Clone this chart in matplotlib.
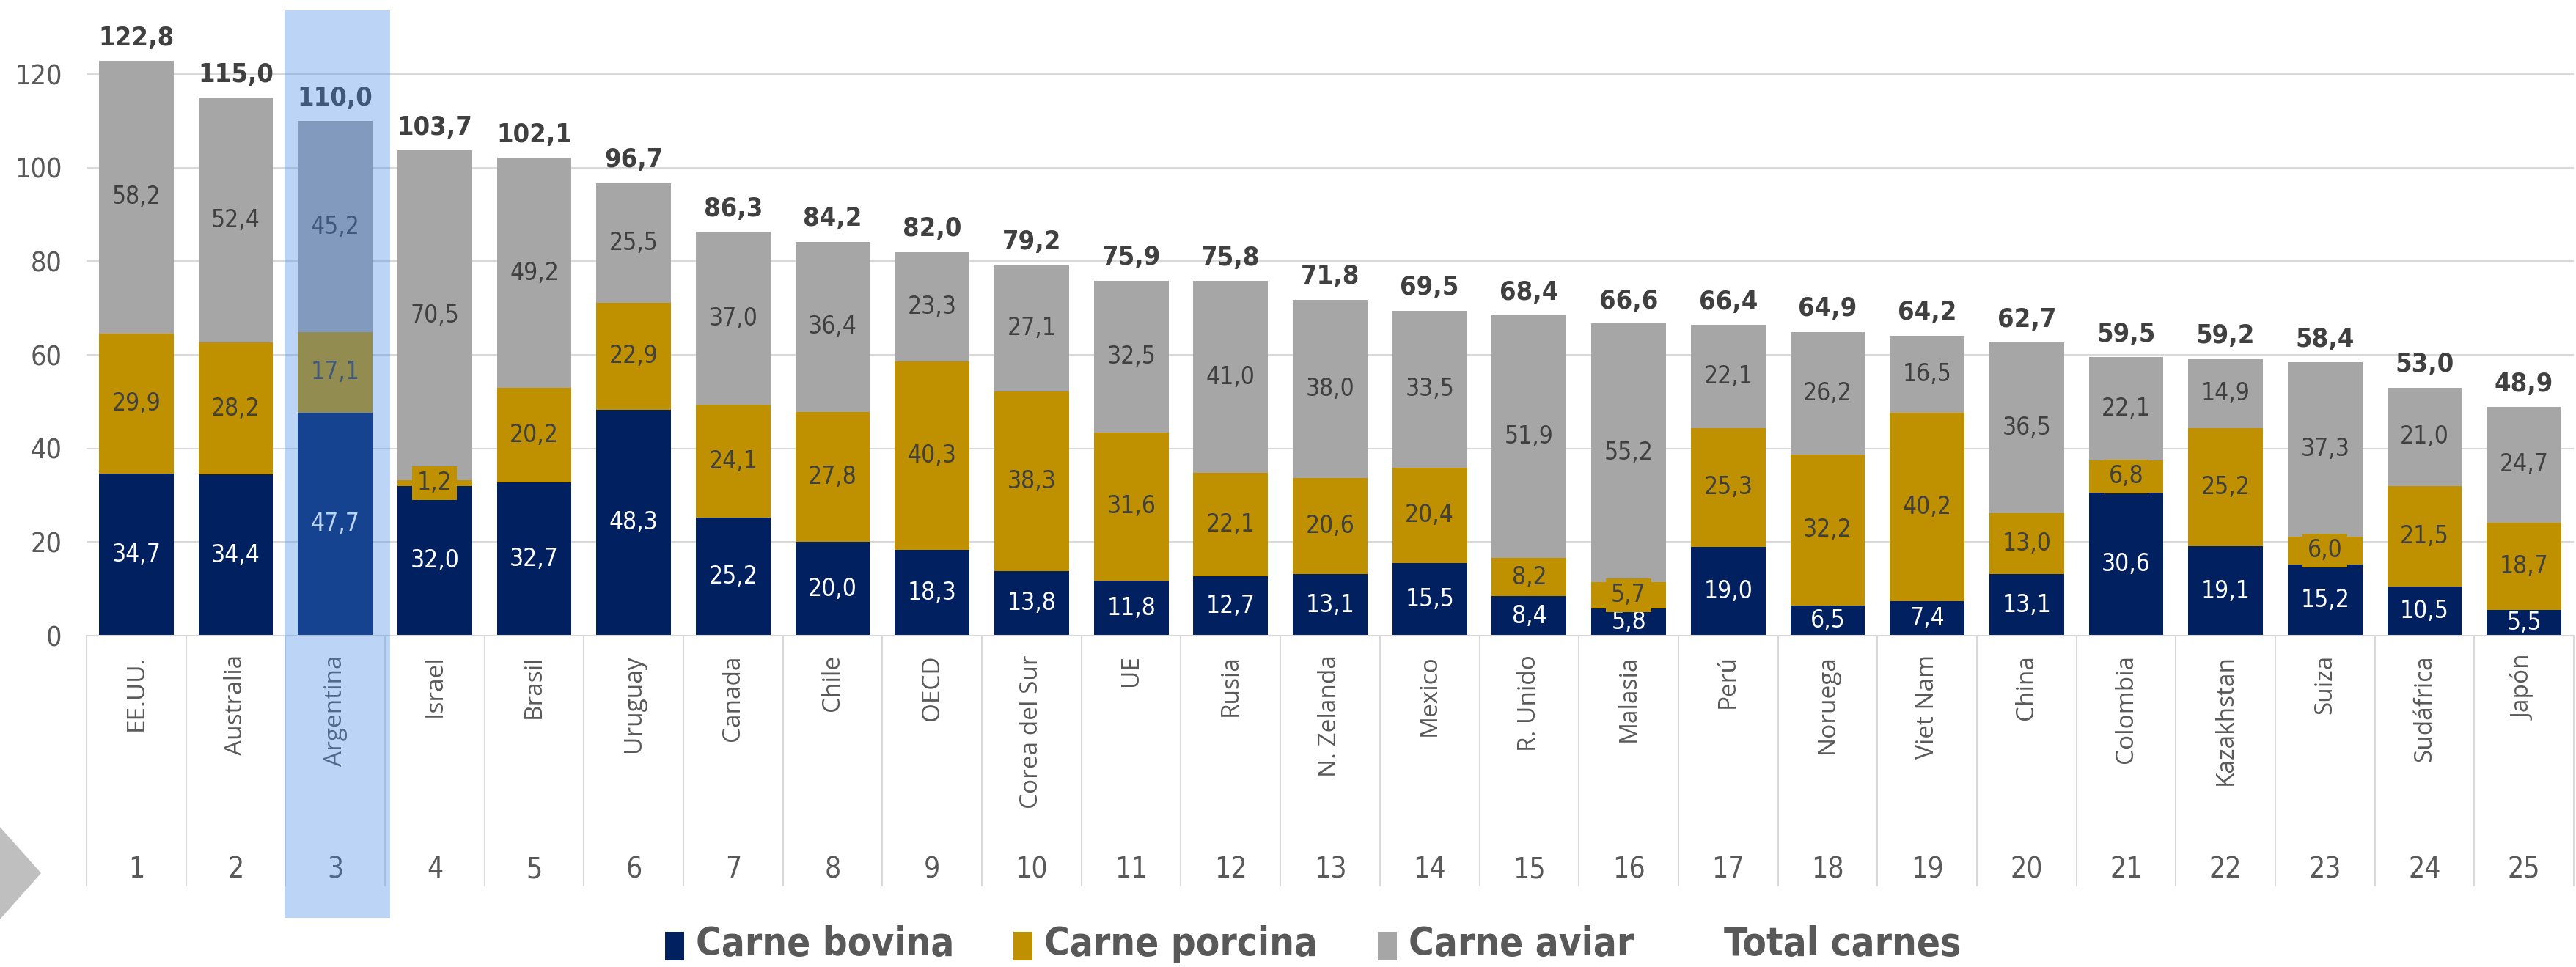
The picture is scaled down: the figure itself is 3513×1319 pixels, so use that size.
import numpy as np
import matplotlib.pyplot as plt
from matplotlib.patches import Rectangle, Polygon

# consumo de carnes por país (kg/hab/año)
paises = ['EE.UU.', 'Australia', 'Argentina', 'Israel', 'Brasil', 'Uruguay', 'Canada',
          'Chile', 'OECD', 'Corea del Sur', 'UE', 'Rusia', 'N. Zelanda', 'Mexico',
          'R. Unido', 'Malasia', 'Perú', 'Noruega', 'Viet Nam', 'China', 'Colombia',
          'Kazakhstan', 'Suiza', 'Sudáfrica', 'Japón']
bovina = [34.7, 34.4, 47.7, 32.0, 32.7, 48.3, 25.2, 20.0, 18.3, 13.8, 11.8, 12.7, 13.1,
          15.5, 8.4, 5.8, 19.0, 6.5, 7.4, 13.1, 30.6, 19.1, 15.2, 10.5, 5.5]
porcina = [29.9, 28.2, 17.1, 1.2, 20.2, 22.9, 24.1, 27.8, 40.3, 38.3, 31.6, 22.1, 20.6,
           20.4, 8.2, 5.7, 25.3, 32.2, 40.2, 13.0, 6.8, 25.2, 6.0, 21.5, 18.7]
aviar = [58.2, 52.4, 45.2, 70.5, 49.2, 25.5, 37.0, 36.4, 23.3, 27.1, 32.5, 41.0, 38.0,
         33.5, 51.9, 55.2, 22.1, 26.2, 16.5, 36.5, 22.1, 14.9, 37.3, 21.0, 24.7]
total = [122.8, 115.0, 110.0, 103.7, 102.1, 96.7, 86.3, 84.2, 82.0, 79.2, 75.9, 75.8,
         71.8, 69.5, 68.4, 66.6, 66.4, 64.9, 64.2, 62.7, 59.5, 59.2, 58.4, 53.0, 48.9]
series = ['Carne bovina', 'Carne porcina', 'Carne aviar', 'Total carnes']
resaltado = 'Argentina'

W, H = 3513, 1319
COL_BOV = '#002060'
COL_POR = '#BF9000'
COL_AVI = '#A6A6A6'
TXT = '#404040'
GRIS = '#595959'
GRID = '#D9D9D9'
NUM = dict(family='DejaVu Sans', stretch='condensed')
SANS = ['Open Sans', 'DejaVu Sans']


def fmt(v):
    return f'{v:.1f}'.replace('.', ',')


fig = plt.figure(figsize=(W / 100, H / 100), dpi=100)
ax = fig.add_axes([118 / W, (H - 867) / H, 3392 / W, 861.7 / H])

x = np.arange(len(paises))
bov = np.array(bovina)
por = np.array(porcina)
avi = np.array(aviar)

ax.bar(x, bov, 0.75, color=COL_BOV, zorder=2)
ax.bar(x, por, 0.75, bottom=bov, color=COL_POR, zorder=2)
ax.bar(x, avi, 0.75, bottom=bov + por, color=COL_AVI, zorder=2)

# etiquetas de cada segmento
for i in x:
    ax.text(i, bov[i] / 2, fmt(bov[i]), ha='center', va='center', fontsize=24,
            color='white', zorder=4, **NUM)
    box = None
    if por[i] < 9:
        box = dict(boxstyle='square,pad=0.2', fc=COL_POR, ec='none')
    ax.text(i, bov[i] + por[i] / 2, fmt(por[i]), ha='center', va='center', fontsize=24,
            color=TXT, zorder=5, bbox=box, **NUM)
    ax.text(i, bov[i] + por[i] + avi[i] / 2, fmt(avi[i]), ha='center', va='center',
            fontsize=24, color=TXT, zorder=4, **NUM)
    ax.text(i, total[i] + 4.9, fmt(total[i]), ha='center', va='center', fontsize=26,
            fontweight='bold', color=TXT, zorder=4, **NUM)
    # tabla de categorías debajo
    ax.text(i, -4.1, paises[i], rotation=90, ha='center', va='top', fontsize=24,
            color=GRIS, family=SANS, clip_on=False, zorder=4)
    ax.text(i, -50.0, str(i + 1), ha='center', va='center', fontsize=28,
            color=GRIS, clip_on=False, zorder=4, **NUM)

ax.vlines(np.arange(len(paises) + 1) - 0.5, -53.6, 0, colors=GRID, lw=1.5,
          clip_on=False, zorder=1)

ax.set_xlim(-0.5, len(paises) - 0.5)
ax.set_ylim(0, 135)
ax.set_yticks(range(0, 121, 20))
ax.set_yticklabels([str(v) for v in range(0, 121, 20)], fontsize=27, color=GRIS, **NUM)
ax.set_xticks([])
ax.tick_params(axis='y', length=0, pad=24)
ax.grid(axis='y', color=GRID, lw=1.5)
ax.set_axisbelow(True)
for s in ['top', 'right', 'left']:
    ax.spines[s].set_visible(False)
ax.spines['bottom'].set_color(GRID)
ax.spines['bottom'].set_linewidth(1.5)

# resaltar Argentina
k = paises.index(resaltado)
ax.add_patch(Rectangle((k - 0.51, -60.3), 1.06, 193.9, fc=(65 / 255, 134 / 255, 232 / 255),
                       alpha=0.35, ec='none', zorder=10, clip_on=False))

# flecha gris a la izquierda
fig.add_artist(Polygon([[0, 1 - 1128 / H], [56 / W, 1 - 1191 / H], [0, 1 - 1254 / H]],
                       closed=True, fc='#BFBFBF', ec='none', transform=fig.transFigure))

# leyenda
colores = [COL_BOV, COL_POR, COL_AVI, None]
pos_x = [907, 1382, 1879, 2351]
for nombre, c, px in zip(series, colores, pos_x):
    tx = px
    if c is not None:
        fig.add_artist(Rectangle((px / W, 1 - 1310 / H), 26 / W, 39 / H, fc=c, ec='none',
                                 transform=fig.transFigure))
        tx = px + 42
    fig.text(tx / W, 1 - 1288 / H, nombre, ha='left', va='center', fontsize=38,
             fontweight='bold', color=GRIS, **NUM)

fig.savefig('out.png', dpi=100)
